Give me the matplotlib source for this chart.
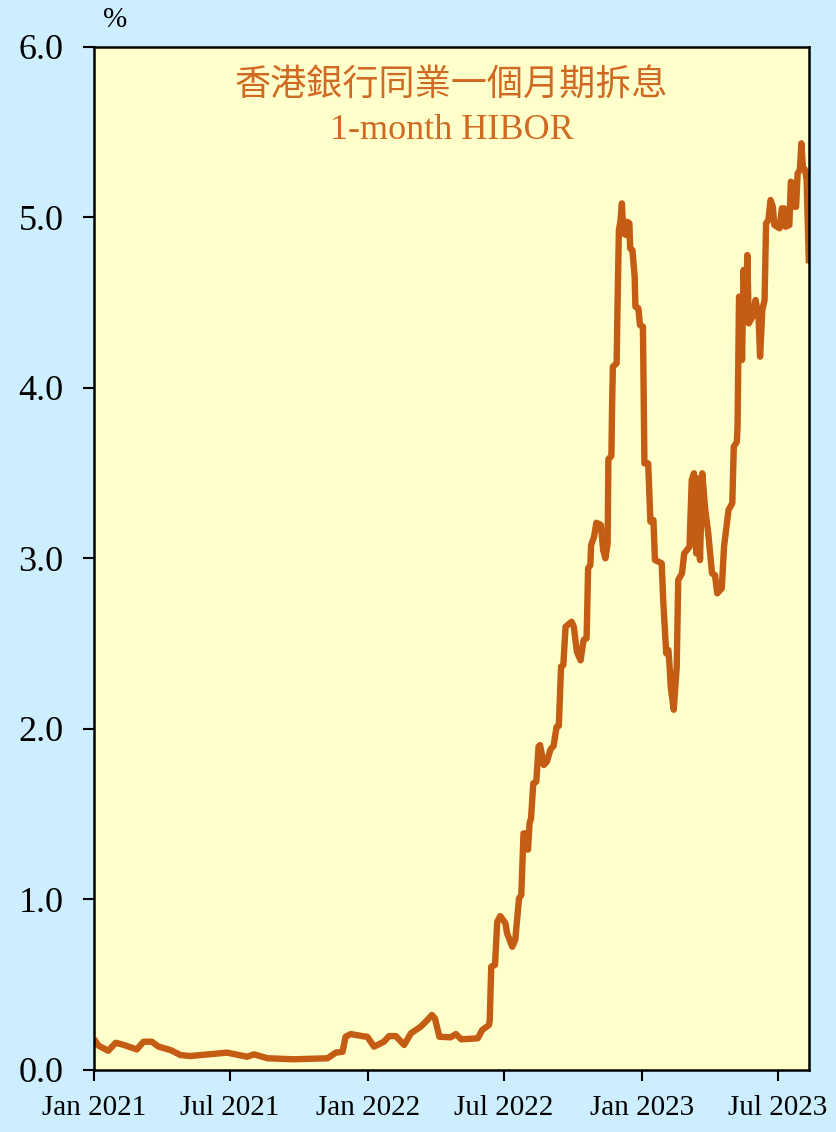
import pandas as pd
import matplotlib
matplotlib.use('Agg')
import matplotlib.pyplot as plt

# 1-month HIBOR, %
dates = [
    '2021-01-01', '2021-01-07', '2021-01-20', '2021-01-30', '2021-02-09', '2021-02-27',
    '2021-03-08', '2021-03-19', '2021-03-28', '2021-04-13', '2021-04-26', '2021-05-09',
    '2021-06-27', '2021-07-24', '2021-08-02', '2021-08-20', '2021-09-24', '2021-11-08',
    '2021-11-19', '2021-11-28', '2021-12-02', '2021-12-09', '2021-12-24', '2021-12-31',
    '2022-01-09', '2022-01-22', '2022-01-29', '2022-02-07', '2022-02-18', '2022-02-27',
    '2022-03-12', '2022-03-21', '2022-03-27', '2022-03-31', '2022-04-06', '2022-04-21',
    '2022-04-28', '2022-05-05', '2022-05-27', '2022-06-02', '2022-06-11', '2022-06-12',
    '2022-06-14', '2022-06-19', '2022-06-22', '2022-06-26', '2022-07-03', '2022-07-05',
    '2022-07-12', '2022-07-16', '2022-07-21', '2022-07-24', '2022-07-27', '2022-07-30',
    '2022-08-01', '2022-08-02', '2022-08-04', '2022-08-06', '2022-08-09', '2022-08-13',
    '2022-08-16', '2022-08-18', '2022-08-23', '2022-08-27', '2022-09-01', '2022-09-05',
    '2022-09-09', '2022-09-12', '2022-09-15', '2022-09-18', '2022-09-21', '2022-09-29',
    '2022-10-02', '2022-10-06', '2022-10-11', '2022-10-15', '2022-10-19', '2022-10-21',
    '2022-10-24', '2022-10-25', '2022-10-29', '2022-11-01', '2022-11-07', '2022-11-10',
    '2022-11-13', '2022-11-16', '2022-11-17', '2022-11-21', '2022-11-22', '2022-11-23',
    '2022-11-28', '2022-11-29', '2022-12-01', '2022-12-03', '2022-12-05', '2022-12-07',
    '2022-12-11', '2022-12-12', '2022-12-15', '2022-12-16', '2022-12-19', '2022-12-22',
    '2022-12-23', '2022-12-27', '2022-12-29', '2023-01-02', '2023-01-04', '2023-01-09',
    '2023-01-12', '2023-01-16', '2023-01-18', '2023-01-27', '2023-01-29', '2023-02-02',
    '2023-02-05', '2023-02-07', '2023-02-08', '2023-02-12', '2023-02-16', '2023-02-18',
    '2023-02-23', '2023-02-26', '2023-03-05', '2023-03-08', '2023-03-11', '2023-03-14',
    '2023-03-17', '2023-03-19', '2023-03-22', '2023-03-26', '2023-03-30', '2023-04-04',
    '2023-04-08', '2023-04-11', '2023-04-17', '2023-04-20', '2023-04-26', '2023-05-01',
    '2023-05-03', '2023-05-07', '2023-05-08', '2023-05-10', '2023-05-12', '2023-05-14',
    '2023-05-16', '2023-05-19', '2023-05-21', '2023-05-23', '2023-05-28', '2023-06-01',
    '2023-06-05', '2023-06-07', '2023-06-10', '2023-06-13', '2023-06-15', '2023-06-18',
    '2023-06-21', '2023-06-24', '2023-06-26', '2023-07-03', '2023-07-06', '2023-07-09',
    '2023-07-11', '2023-07-16', '2023-07-18', '2023-07-20', '2023-07-23', '2023-07-25',
    '2023-07-27', '2023-07-30', '2023-08-01', '2023-08-03', '2023-08-06', '2023-08-08',
    '2023-08-11',
]
hibor = [
    0.18, 0.14, 0.11, 0.157, 0.145, 0.118,
    0.163, 0.163, 0.134, 0.114, 0.085, 0.079,
    0.099, 0.075, 0.089, 0.066, 0.060, 0.066,
    0.099, 0.104, 0.192, 0.208, 0.196, 0.192,
    0.134, 0.163, 0.196, 0.196, 0.144, 0.212,
    0.251, 0.29, 0.32, 0.30, 0.192, 0.189,
    0.208, 0.177, 0.183, 0.232, 0.261, 0.29,
    0.603, 0.613, 0.867, 0.90, 0.857, 0.80,
    0.72, 0.76, 1.004, 1.023, 1.385, 1.385,
    1.29, 1.29, 1.444, 1.473, 1.679, 1.688,
    1.893, 1.903, 1.786, 1.805, 1.878, 1.897,
    2.01, 2.015, 2.363, 2.372, 2.597, 2.626,
    2.597, 2.45, 2.40, 2.519, 2.529, 2.94,
    2.959, 3.076, 3.125, 3.207, 3.194, 3.047,
    2.998, 3.086, 3.58, 3.598, 3.907, 4.122,
    4.142, 4.435, 4.924, 4.972, 5.08, 4.904,
    4.894, 4.972, 4.963, 4.816, 4.806, 4.65,
    4.474, 4.464, 4.367, 4.357, 3.555, 3.555,
    3.213, 3.223, 2.988, 2.969, 2.754, 2.441,
    2.46, 2.333, 2.245, 2.11, 2.36, 2.871,
    2.91, 3.027, 3.066, 3.457, 3.497, 3.027,
    3.467, 2.988, 3.497, 3.282, 3.145, 2.91,
    2.90, 2.793, 2.822, 3.066, 3.282, 3.321,
    3.653, 3.68, 3.77, 4.533, 4.523, 4.161,
    4.689, 4.396, 4.777, 4.376, 4.415, 4.513,
    4.415, 4.181, 4.455, 4.513, 4.963, 4.982,
    5.10, 5.06, 4.953, 4.934, 5.051, 5.051,
    4.943, 4.953, 5.207, 5.198, 5.06, 5.06,
    5.256, 5.276, 5.432, 5.295, 5.276, 5.217,
    4.728,
]
tick_dates = ['2021-01-01', '2021-07-01', '2022-01-01', '2022-07-01', '2023-01-01', '2023-07-01']
tick_labels = ['Jan 2021', 'Jul 2021', 'Jan 2022', 'Jul 2022', 'Jan 2023', 'Jul 2023']
y_ticks = [0.0, 1.0, 2.0, 3.0, 4.0, 5.0, 6.0]

df = pd.DataFrame({'date': pd.to_datetime(dates), 'hibor': hibor})

bg = '#cceeff'
panel = '#ffffcc'
line_col = '#c55c14'
text_col = '#d06a22'
serif = ['Liberation Serif', 'DejaVu Serif']

fig = plt.figure(figsize=(8.37, 11.32), dpi=100, facecolor=bg)
ax = fig.add_axes([0.1123, 0.0552, 0.8541, 0.9037])
ax.set_facecolor(panel)

ax.plot(df['date'], df['hibor'], color=line_col, linewidth=4.6,
        solid_joinstyle='round', solid_capstyle='butt')

ax.set_xlim(pd.Timestamp('2021-01-01'), pd.Timestamp('2023-08-11'))
ax.set_ylim(0, 6.0)
ax.set_yticks(y_ticks)
ax.set_yticklabels([f'{v:.1f}' for v in y_ticks], fontfamily=serif, fontsize=26)
ax.set_xticks(pd.to_datetime(tick_dates))
ax.set_xticklabels(tick_labels, fontfamily=serif, fontsize=21)
ax.tick_params(axis='y', direction='out', length=8, width=1.5, pad=14, colors='black')
ax.tick_params(axis='x', direction='out', length=8, width=1.5, pad=10, colors='black')

for s in ax.spines.values():
    s.set_linewidth(1.8)
    s.set_color('black')

ax.text(0.013, 1.013, '%', transform=ax.transAxes, fontfamily=serif, fontsize=21,
        ha='left', va='bottom')
ax.text(0.50, 0.962, '香港銀行同業一個月期拆息', transform=ax.transAxes,
        fontfamily=['Noto Sans CJK TC', 'DejaVu Sans'], fontweight='light',
        fontsize=26, color=text_col, ha='center', va='center')
ax.text(0.50, 0.918, '1-month HIBOR', transform=ax.transAxes, fontfamily=serif,
        fontsize=26, color=text_col, ha='center', va='center')

fig.savefig('out.png', dpi=100, facecolor=bg)
